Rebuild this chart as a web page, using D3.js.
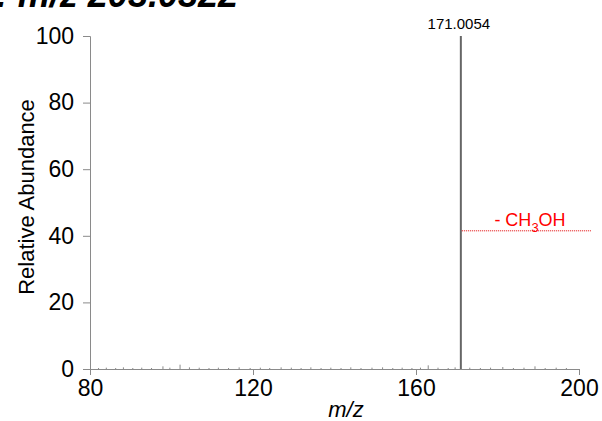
<!DOCTYPE html>
<html>
<head>
<meta charset="utf-8">
<script src="https://cdn.jsdelivr.net/npm/d3@7"></script>
<style>
  body { margin: 0; background: #fff; }
  svg { display: block; font-family: Arial, "Liberation Sans", sans-serif; }
</style>
</head>
<body>
<div id="d3-container"></div>
<script>
const width = 602;
const height = 421;
const margin = { top: 36, right: 23, bottom: 52, left: 90 };

// spectrum data
const title = 'B: m/z 203.0322';
const basePeakMz = 171.0054;
const basePeakInt = 100;
const noiseMz = [82.1, 84.0, 86.3, 88.2, 90.5, 92.7, 95.1, 97.9, 99.6, 102.1, 104.4, 106.8,
  109.2, 111.5, 114.0, 116.6, 119.3, 121.8, 124.1, 126.9, 129.4, 131.8, 134.2, 136.7,
  139.1, 141.6, 144.0, 146.5, 149.2, 151.8, 154.3, 156.6, 159.0, 161.1, 163.0, 165.4,
  167.9, 169.6, 173.2, 175.8, 178.3, 181.3, 183.9, 186.5, 189.2, 191.7, 194.4, 196.9];
const noiseInt = [0.3, 0.4, 0.3, 0.5, 0.3, 0.4, 0.3, 0.8, 0.4, 1.3, 0.5, 0.4,
  0.3, 0.4, 0.3, 0.5, 0.3, 0.4, 0.3, 0.5, 0.4, 0.3, 0.5, 0.3,
  0.4, 0.3, 0.5, 0.3, 0.4, 0.5, 0.3, 0.4, 0.3, 0.4, 1.1, 0.4,
  0.3, 0.5, 0.4, 0.3, 0.4, 0.6, 0.3, 0.4, 0.8, 0.3, 0.4, 0.3];
const lossLabel = ['- CH', '3', 'OH'];
const lossLevel = 41.5;
const lossEndMz = 203.1;
const xTicks = [80, 120, 160, 200];
const yTicks = [0, 20, 40, 60, 80, 100];

const svg = d3.select('#d3-container')
  .append('svg')
  .attr('width', width)
  .attr('height', height);

const x = d3.scaleLinear()
  .domain([80, 200])
  .range([margin.left, width - margin.right]);

const y = d3.scaleLinear()
  .domain([0, 100])
  .range([height - margin.bottom, margin.top]);

// title, cut off at the top like the reference
svg.append('text')
  .attr('x', 238)
  .attr('y', 7)
  .attr('text-anchor', 'end')
  .attr('font-size', 36)
  .attr('font-weight', 'bold')
  .attr('font-style', 'italic')
  .text(title);

// noise sticks
svg.append('g')
  .attr('stroke', '#8a8a8a')
  .attr('stroke-width', 1)
  .selectAll('line')
  .data(noiseMz.map((m, i) => ({ mz: m, v: noiseInt[i] })))
  .join('line')
    .attr('x1', d => x(d.mz))
    .attr('x2', d => x(d.mz))
    .attr('y1', y(0))
    .attr('y2', d => y(d.v));

// x axis
const xAxis = svg.append('g')
  .attr('transform', `translate(0, ${y(0)})`)
  .call(d3.axisBottom(x).tickValues(xTicks).tickSizeOuter(0).tickSize(6).tickPadding(5));
xAxis.select('.domain').attr('stroke', '#8a8a8a');
xAxis.selectAll('.tick line').attr('stroke', '#8a8a8a');
xAxis.selectAll('.tick text')
  .attr('font-size', 23)
  .attr('font-family', 'Arial, "Liberation Sans", sans-serif')
  .attr('fill', '#000');

// y axis
const yAxis = svg.append('g')
  .attr('transform', `translate(${margin.left}, 0)`)
  .call(d3.axisLeft(y).tickValues(yTicks).tickSizeOuter(0).tickSize(7).tickPadding(9));
yAxis.select('.domain').attr('stroke', '#8a8a8a');
yAxis.selectAll('.tick line').attr('stroke', '#8a8a8a');
yAxis.selectAll('.tick text')
  .attr('font-size', 23)
  .attr('font-family', 'Arial, "Liberation Sans", sans-serif')
  .attr('fill', '#000');

// base peak
svg.append('line')
  .attr('x1', x(basePeakMz))
  .attr('x2', x(basePeakMz))
  .attr('y1', y(0))
  .attr('y2', y(basePeakInt))
  .attr('stroke', '#666')
  .attr('stroke-width', 2);

svg.append('text')
  .attr('x', x(basePeakMz) - 2)
  .attr('y', 29)
  .attr('text-anchor', 'middle')
  .attr('font-size', 15)
  .text(basePeakMz.toFixed(4));

// neutral loss marker
svg.append('line')
  .attr('x1', x(basePeakMz) + 1)
  .attr('x2', x(lossEndMz))
  .attr('y1', y(lossLevel))
  .attr('y2', y(lossLevel))
  .attr('stroke', '#e00000')
  .attr('stroke-width', 1)
  .attr('stroke-dasharray', '1,1');

const loss = svg.append('text')
  .attr('x', 530)
  .attr('y', 226)
  .attr('text-anchor', 'middle')
  .attr('font-size', 18)
  .attr('fill', '#ff0000');
loss.append('tspan').text(lossLabel[0]);
loss.append('tspan').attr('dy', 6).attr('font-size', 13).text(lossLabel[1]);
loss.append('tspan').attr('dy', -6).text(lossLabel[2]);

// axis titles
svg.append('text')
  .attr('transform', `translate(34, 197) rotate(-90)`)
  .attr('text-anchor', 'middle')
  .attr('font-size', 22)
  .text('Relative Abundance');

svg.append('text')
  .attr('x', 346)
  .attr('y', 417)
  .attr('text-anchor', 'middle')
  .attr('font-size', 22)
  .attr('font-style', 'italic')
  .text('m/z');
</script>
</body>
</html>
